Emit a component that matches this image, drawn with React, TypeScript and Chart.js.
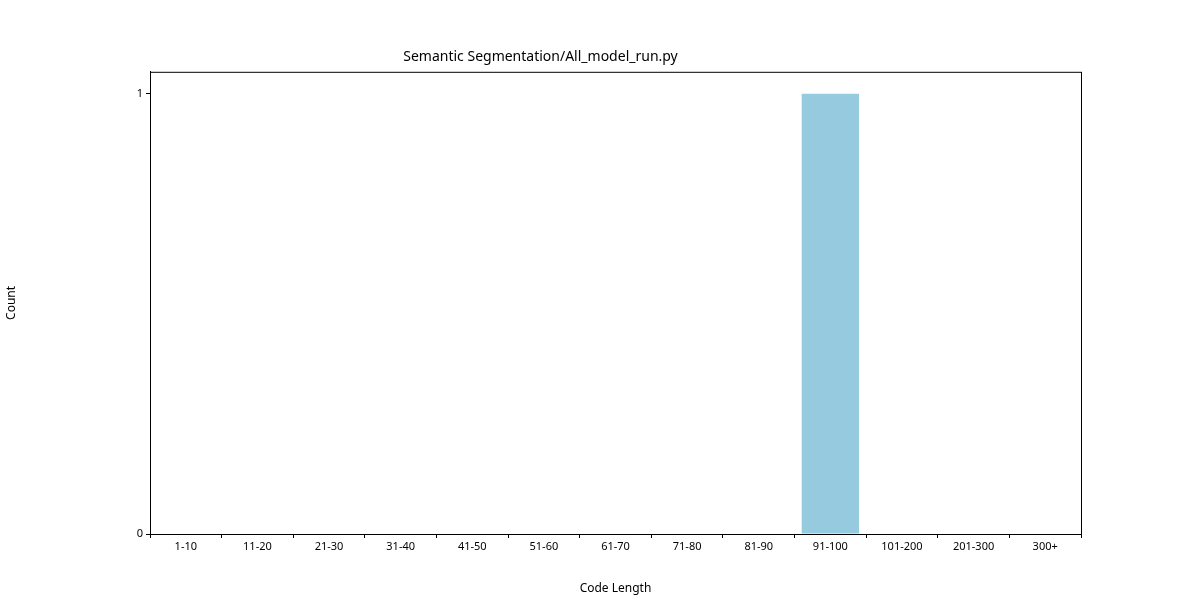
import { useEffect, useRef } from "react";
import { Chart, registerables } from "chart.js";

Chart.register(...registerables);

const categories = ["1-10", "11-20", "21-30", "31-40", "41-50", "51-60", "61-70", "71-80", "81-90", "91-100", "101-200", "201-300", "300+"];
const counts = [0, 0, 0, 0, 0, 0, 0, 0, 0, 1, 0, 0, 0];
const yTicks = [0, 1];

const FONT = "'Noto Sans', sans-serif";

const frame = {
  id: "frame",
  afterDraw(chart: Chart) {
    const { ctx, chartArea: a } = chart;
    ctx.save();
    ctx.strokeStyle = "#000";
    ctx.lineWidth = 1;
    ctx.strokeRect(a.left + 0.5, a.top + 0.5, a.right - a.left, a.bottom - a.top);
    ctx.restore();
  },
};

export default function App() {
  const ref = useRef<HTMLCanvasElement>(null);

  useEffect(() => {
    document.body.style.margin = "0";
    if (!ref.current) return;
    const chart = new Chart(ref.current, {
      type: "bar",
      data: {
        labels: categories,
        datasets: [{ data: counts, backgroundColor: "#96cade", barPercentage: 0.8, categoryPercentage: 1 }],
      },
      options: {
        responsive: false,
        animation: false,
        layout: { padding: { left: 0, right: 119, top: 0, bottom: 0 } },
        plugins: {
          legend: { display: false },
          tooltip: { enabled: false },
          title: {
            display: true,
            text: "Semantic Segmentation/All_model_run.py",
            color: "#000",
            font: { family: FONT, size: 14, weight: "normal" },
            padding: { top: 49, bottom: 6 },
          },
        },
        scales: {
          x: {
            grid: { display: true, drawOnChartArea: false, drawTicks: true, tickLength: 4, color: "#000" },
            border: { display: true, color: "#000" },
            ticks: { color: "#000", font: { family: FONT, size: 11 }, maxRotation: 0, padding: 2 },
            title: { display: true, text: "Code Length", color: "#000", font: { family: FONT, size: 12 }, padding: { top: 2 } },
            afterFit: (s: any) => { s.height = 66; },
          },
          y: {
            min: 0,
            max: 1.05,
            afterBuildTicks: (s: any) => { s.ticks = yTicks.map((v) => ({ value: v })); },
            grid: { display: true, drawOnChartArea: false, drawTicks: true, tickLength: 4, color: "#000" },
            border: { display: true, color: "#000" },
            ticks: { color: "#000", font: { family: FONT, size: 11 }, padding: 3 },
            title: { display: true, text: "Count", color: "#000", font: { family: FONT, size: 12 } },
            afterFit: (s: any) => { s.width = 150; },
          },
        },
      },
      plugins: [frame],
    });
    return () => chart.destroy();
  }, []);

  return <canvas ref={ref} width={1200} height={600} style={{ display: "block" }} />;
}
